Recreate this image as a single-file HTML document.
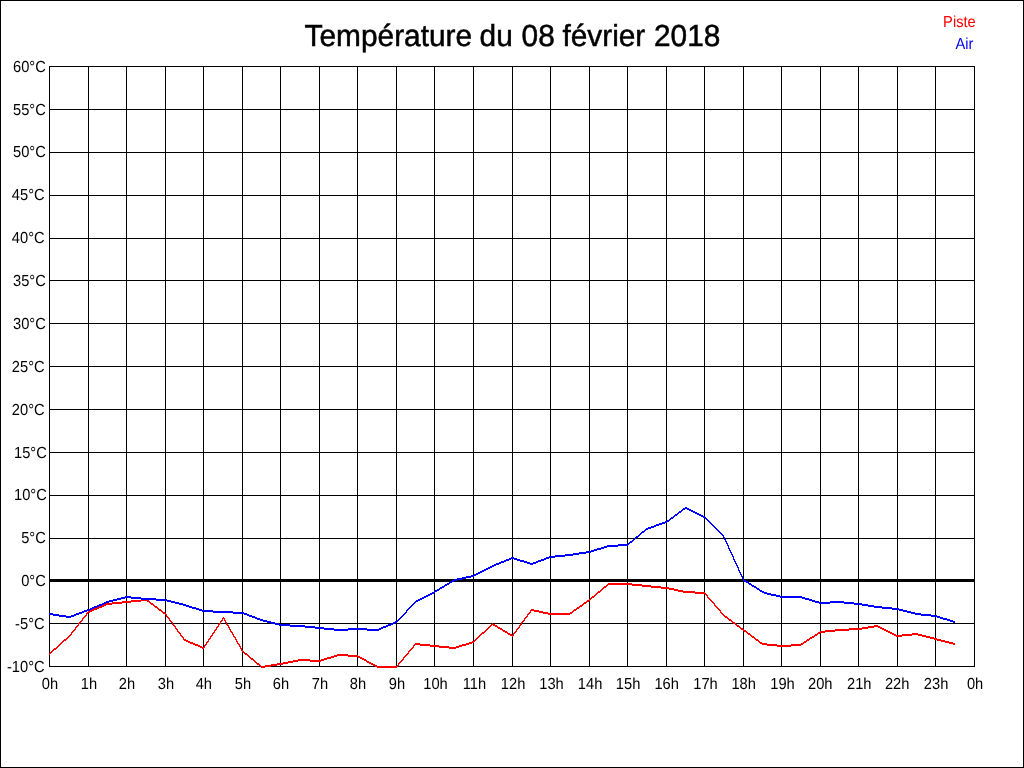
<!DOCTYPE html>
<html lang="fr">
<head>
<meta charset="utf-8">
<title>Température du 08 février 2018</title>
<style>
html,body{margin:0;padding:0;background:#fff;width:1024px;height:768px;overflow:hidden}
svg{display:block;position:absolute;left:0;top:0}
text{font-family:"Liberation Sans",sans-serif;fill:#000;text-rendering:geometricPrecision}
.t{font-size:29.85px;stroke:#000;stroke-width:.5px}
.a{font-size:14.67px}
.g rect{fill:#000}
</style>
</head>
<body>
<svg width="1024" height="768" viewBox="0 0 1024 768">
<rect x="0" y="0" width="1024" height="768" fill="#fff"/>
<g class="g" shape-rendering="crispEdges">
<rect x="0" y="0" width="1024" height="1"/>
<rect x="0" y="767" width="1024" height="1"/>
<rect x="0" y="0" width="1" height="768"/>
<rect x="1023" y="0" width="1" height="768"/>
<rect x="49" y="66" width="1" height="601"/>
<rect x="88" y="66" width="1" height="601"/>
<rect x="126" y="66" width="1" height="601"/>
<rect x="165" y="66" width="1" height="601"/>
<rect x="203" y="66" width="1" height="601"/>
<rect x="242" y="66" width="1" height="601"/>
<rect x="280" y="66" width="1" height="601"/>
<rect x="319" y="66" width="1" height="601"/>
<rect x="357" y="66" width="1" height="601"/>
<rect x="396" y="66" width="1" height="601"/>
<rect x="434" y="66" width="1" height="601"/>
<rect x="473" y="66" width="1" height="601"/>
<rect x="512" y="66" width="1" height="601"/>
<rect x="550" y="66" width="1" height="601"/>
<rect x="589" y="66" width="1" height="601"/>
<rect x="627" y="66" width="1" height="601"/>
<rect x="666" y="66" width="1" height="601"/>
<rect x="704" y="66" width="1" height="601"/>
<rect x="743" y="66" width="1" height="601"/>
<rect x="781" y="66" width="1" height="601"/>
<rect x="820" y="66" width="1" height="601"/>
<rect x="858" y="66" width="1" height="601"/>
<rect x="897" y="66" width="1" height="601"/>
<rect x="935" y="66" width="1" height="601"/>
<rect x="974" y="66" width="1" height="601"/>
<rect x="49" y="66" width="926" height="1"/>
<rect x="49" y="109" width="926" height="1"/>
<rect x="49" y="152" width="926" height="1"/>
<rect x="49" y="195" width="926" height="1"/>
<rect x="49" y="238" width="926" height="1"/>
<rect x="49" y="280" width="926" height="1"/>
<rect x="49" y="323" width="926" height="1"/>
<rect x="49" y="366" width="926" height="1"/>
<rect x="49" y="409" width="926" height="1"/>
<rect x="49" y="452" width="926" height="1"/>
<rect x="49" y="495" width="926" height="1"/>
<rect x="49" y="538" width="926" height="1"/>
<rect x="49" y="580" width="926" height="1"/>
<rect x="49" y="623" width="926" height="1"/>
<rect x="49" y="666" width="926" height="1"/>
<rect x="49" y="579" width="926" height="3"/>
</g>
<path shape-rendering="crispEdges" fill="#f00" d="M608 583h24v1h-24zM607 584h35v1h-35zM606 585h2v1h-2zM632 585h19v1h-19zM604 586h3v1h-3zM642 586h19v1h-19zM603 587h3v1h-3zM651 587h18v1h-18zM602 588h2v1h-2zM661 588h13v1h-13zM601 589h2v1h-2zM669 589h9v1h-9zM600 590h2v1h-2zM674 590h9v1h-9zM598 591h3v1h-3zM678 591h17v1h-17zM597 592h3v1h-3zM683 592h22v1h-22zM596 593h2v1h-2zM695 593h11v1h-11zM595 594h2v1h-2zM705 594h2v1h-2zM594 595h2v1h-2zM706 595h2v1h-2zM592 596h3v1h-3zM707 596h1v1h-1zM591 597h3v1h-3zM707 597h2v1h-2zM590 598h2v1h-2zM708 598h2v1h-2zM141 599h6v1h-6zM589 599h2v1h-2zM709 599h2v1h-2zM131 600h18v1h-18zM587 600h3v1h-3zM710 600h2v1h-2zM122 601h19v1h-19zM147 601h3v1h-3zM586 601h3v1h-3zM711 601h2v1h-2zM112 602h19v1h-19zM149 602h2v1h-2zM584 602h3v1h-3zM712 602h2v1h-2zM106 603h16v1h-16zM150 603h3v1h-3zM583 603h3v1h-3zM713 603h2v1h-2zM104 604h8v1h-8zM151 604h3v1h-3zM582 604h2v1h-2zM714 604h1v1h-1zM102 605h4v1h-4zM153 605h2v1h-2zM580 605h3v1h-3zM714 605h2v1h-2zM99 606h5v1h-5zM154 606h3v1h-3zM579 606h3v1h-3zM715 606h2v1h-2zM97 607h5v1h-5zM155 607h3v1h-3zM577 607h3v1h-3zM716 607h2v1h-2zM94 608h5v1h-5zM157 608h2v1h-2zM576 608h3v1h-3zM717 608h2v1h-2zM92 609h5v1h-5zM158 609h3v1h-3zM531 609h3v1h-3zM574 609h3v1h-3zM718 609h2v1h-2zM90 610h4v1h-4zM159 610h3v1h-3zM530 610h9v1h-9zM573 610h3v1h-3zM719 610h2v1h-2zM88 611h4v1h-4zM161 611h2v1h-2zM530 611h1v1h-1zM534 611h9v1h-9zM572 611h2v1h-2zM720 611h1v1h-1zM87 612h3v1h-3zM162 612h3v1h-3zM529 612h2v1h-2zM539 612h9v1h-9zM570 612h3v1h-3zM720 612h2v1h-2zM86 613h2v1h-2zM163 613h3v1h-3zM528 613h2v1h-2zM543 613h29v1h-29zM721 613h2v1h-2zM86 614h1v1h-1zM165 614h2v1h-2zM527 614h2v1h-2zM548 614h22v1h-22zM722 614h2v1h-2zM85 615h2v1h-2zM166 615h1v1h-1zM527 615h1v1h-1zM723 615h2v1h-2zM84 616h2v1h-2zM166 616h2v1h-2zM526 616h2v1h-2zM724 616h3v1h-3zM83 617h2v1h-2zM167 617h2v1h-2zM223 617h1v1h-1zM525 617h2v1h-2zM725 617h3v1h-3zM82 618h2v1h-2zM168 618h2v1h-2zM222 618h3v1h-3zM524 618h2v1h-2zM727 618h2v1h-2zM82 619h1v1h-1zM169 619h1v1h-1zM222 619h1v1h-1zM224 619h1v1h-1zM524 619h1v1h-1zM728 619h3v1h-3zM81 620h2v1h-2zM169 620h2v1h-2zM221 620h2v1h-2zM224 620h2v1h-2zM523 620h2v1h-2zM729 620h3v1h-3zM80 621h2v1h-2zM170 621h2v1h-2zM220 621h2v1h-2zM225 621h1v1h-1zM522 621h2v1h-2zM731 621h2v1h-2zM79 622h2v1h-2zM171 622h2v1h-2zM220 622h1v1h-1zM225 622h2v1h-2zM521 622h2v1h-2zM732 622h3v1h-3zM78 623h2v1h-2zM172 623h1v1h-1zM219 623h2v1h-2zM226 623h1v1h-1zM492 623h1v1h-1zM521 623h1v1h-1zM733 623h3v1h-3zM78 624h1v1h-1zM172 624h2v1h-2zM218 624h2v1h-2zM226 624h2v1h-2zM491 624h4v1h-4zM520 624h2v1h-2zM735 624h2v1h-2zM77 625h2v1h-2zM173 625h2v1h-2zM218 625h1v1h-1zM227 625h2v1h-2zM490 625h2v1h-2zM493 625h4v1h-4zM519 625h2v1h-2zM736 625h3v1h-3zM874 625h4v1h-4zM76 626h2v1h-2zM174 626h2v1h-2zM217 626h2v1h-2zM228 626h1v1h-1zM489 626h2v1h-2zM495 626h3v1h-3zM519 626h1v1h-1zM737 626h3v1h-3zM868 626h12v1h-12zM75 627h2v1h-2zM175 627h1v1h-1zM216 627h2v1h-2zM228 627h2v1h-2zM488 627h2v1h-2zM497 627h3v1h-3zM518 627h2v1h-2zM739 627h2v1h-2zM862 627h12v1h-12zM878 627h4v1h-4zM75 628h1v1h-1zM175 628h2v1h-2zM216 628h1v1h-1zM229 628h1v1h-1zM487 628h2v1h-2zM498 628h4v1h-4zM517 628h2v1h-2zM740 628h3v1h-3zM849 628h19v1h-19zM880 628h4v1h-4zM74 629h2v1h-2zM176 629h2v1h-2zM215 629h2v1h-2zM229 629h2v1h-2zM486 629h2v1h-2zM500 629h3v1h-3zM516 629h2v1h-2zM741 629h3v1h-3zM835 629h27v1h-27zM882 629h4v1h-4zM73 630h2v1h-2zM177 630h1v1h-1zM214 630h2v1h-2zM230 630h1v1h-1zM485 630h2v1h-2zM502 630h3v1h-3zM516 630h1v1h-1zM743 630h3v1h-3zM825 630h24v1h-24zM884 630h4v1h-4zM72 631h2v1h-2zM177 631h2v1h-2zM214 631h1v1h-1zM230 631h2v1h-2zM484 631h2v1h-2zM503 631h4v1h-4zM515 631h2v1h-2zM744 631h3v1h-3zM820 631h15v1h-15zM886 631h4v1h-4zM71 632h2v1h-2zM178 632h2v1h-2zM213 632h2v1h-2zM231 632h2v1h-2zM482 632h3v1h-3zM505 632h3v1h-3zM514 632h2v1h-2zM746 632h2v1h-2zM818 632h7v1h-7zM888 632h4v1h-4zM71 633h1v1h-1zM179 633h2v1h-2zM212 633h2v1h-2zM232 633h1v1h-1zM481 633h3v1h-3zM507 633h3v1h-3zM513 633h2v1h-2zM747 633h3v1h-3zM817 633h3v1h-3zM890 633h4v1h-4zM912 633h6v1h-6zM70 634h2v1h-2zM180 634h1v1h-1zM212 634h1v1h-1zM232 634h2v1h-2zM480 634h2v1h-2zM508 634h4v1h-4zM513 634h1v1h-1zM748 634h3v1h-3zM815 634h3v1h-3zM892 634h4v1h-4zM902 634h20v1h-20zM69 635h2v1h-2zM180 635h2v1h-2zM211 635h2v1h-2zM233 635h1v1h-1zM479 635h2v1h-2zM510 635h4v1h-4zM750 635h2v1h-2zM814 635h3v1h-3zM894 635h18v1h-18zM918 635h8v1h-8zM68 636h2v1h-2zM181 636h2v1h-2zM210 636h2v1h-2zM233 636h2v1h-2zM478 636h2v1h-2zM512 636h1v1h-1zM751 636h3v1h-3zM812 636h3v1h-3zM896 636h6v1h-6zM922 636h8v1h-8zM67 637h2v1h-2zM182 637h2v1h-2zM210 637h1v1h-1zM234 637h2v1h-2zM477 637h2v1h-2zM752 637h3v1h-3zM810 637h4v1h-4zM926 637h8v1h-8zM66 638h2v1h-2zM183 638h1v1h-1zM209 638h2v1h-2zM235 638h1v1h-1zM476 638h2v1h-2zM754 638h2v1h-2zM809 638h3v1h-3zM930 638h7v1h-7zM64 639h3v1h-3zM183 639h3v1h-3zM208 639h2v1h-2zM235 639h2v1h-2zM475 639h2v1h-2zM755 639h3v1h-3zM807 639h3v1h-3zM934 639h7v1h-7zM63 640h3v1h-3zM184 640h4v1h-4zM208 640h1v1h-1zM236 640h1v1h-1zM474 640h2v1h-2zM756 640h3v1h-3zM806 640h3v1h-3zM937 640h8v1h-8zM62 641h2v1h-2zM186 641h4v1h-4zM207 641h2v1h-2zM236 641h2v1h-2zM472 641h3v1h-3zM758 641h2v1h-2zM804 641h3v1h-3zM941 641h8v1h-8zM61 642h2v1h-2zM188 642h5v1h-5zM206 642h2v1h-2zM237 642h1v1h-1zM469 642h5v1h-5zM759 642h3v1h-3zM803 642h3v1h-3zM945 642h8v1h-8zM60 643h2v1h-2zM190 643h5v1h-5zM206 643h1v1h-1zM237 643h2v1h-2zM415 643h5v1h-5zM466 643h6v1h-6zM760 643h7v1h-7zM801 643h3v1h-3zM949 643h6v1h-6zM59 644h2v1h-2zM193 644h5v1h-5zM205 644h2v1h-2zM238 644h2v1h-2zM414 644h16v1h-16zM462 644h7v1h-7zM762 644h15v1h-15zM791 644h12v1h-12zM953 644h2v1h-2zM58 645h2v1h-2zM195 645h5v1h-5zM204 645h2v1h-2zM239 645h1v1h-1zM413 645h2v1h-2zM420 645h19v1h-19zM459 645h7v1h-7zM767 645h34v1h-34zM57 646h2v1h-2zM198 646h4v1h-4zM204 646h1v1h-1zM239 646h2v1h-2zM413 646h1v1h-1zM430 646h19v1h-19zM456 646h6v1h-6zM777 646h14v1h-14zM56 647h2v1h-2zM200 647h5v1h-5zM240 647h1v1h-1zM412 647h2v1h-2zM439 647h20v1h-20zM54 648h3v1h-3zM202 648h2v1h-2zM240 648h2v1h-2zM411 648h2v1h-2zM449 648h7v1h-7zM53 649h3v1h-3zM241 649h1v1h-1zM410 649h2v1h-2zM52 650h2v1h-2zM241 650h2v1h-2zM409 650h2v1h-2zM51 651h2v1h-2zM242 651h2v1h-2zM408 651h2v1h-2zM50 652h2v1h-2zM243 652h2v1h-2zM408 652h1v1h-1zM49 653h2v1h-2zM244 653h3v1h-3zM407 653h2v1h-2zM49 654h1v1h-1zM245 654h3v1h-3zM337 654h11v1h-11zM406 654h2v1h-2zM247 655h2v1h-2zM334 655h24v1h-24zM405 655h2v1h-2zM248 656h2v1h-2zM331 656h6v1h-6zM348 656h12v1h-12zM404 656h2v1h-2zM249 657h2v1h-2zM327 657h7v1h-7zM358 657h4v1h-4zM403 657h2v1h-2zM250 658h3v1h-3zM324 658h7v1h-7zM360 658h4v1h-4zM403 658h1v1h-1zM251 659h3v1h-3zM298 659h12v1h-12zM321 659h6v1h-6zM362 659h4v1h-4zM402 659h2v1h-2zM253 660h2v1h-2zM293 660h31v1h-31zM364 660h3v1h-3zM401 660h2v1h-2zM254 661h2v1h-2zM288 661h10v1h-10zM310 661h11v1h-11zM366 661h3v1h-3zM400 661h2v1h-2zM255 662h2v1h-2zM283 662h10v1h-10zM367 662h4v1h-4zM399 662h2v1h-2zM256 663h3v1h-3zM277 663h11v1h-11zM369 663h4v1h-4zM398 663h2v1h-2zM257 664h3v1h-3zM271 664h12v1h-12zM371 664h4v1h-4zM398 664h1v1h-1zM259 665h2v1h-2zM265 665h12v1h-12zM373 665h4v1h-4zM397 665h2v1h-2zM260 666h11v1h-11zM375 666h23v1h-23zM261 667h4v1h-4zM377 667h20v1h-20z"/>
<path shape-rendering="crispEdges" fill="#00f" d="M685 507h2v1h-2zM683 508h6v1h-6zM682 509h3v1h-3zM687 509h4v1h-4zM681 510h2v1h-2zM689 510h4v1h-4zM679 511h3v1h-3zM691 511h4v1h-4zM678 512h3v1h-3zM693 512h4v1h-4zM677 513h2v1h-2zM695 513h4v1h-4zM675 514h3v1h-3zM697 514h4v1h-4zM674 515h3v1h-3zM699 515h4v1h-4zM673 516h2v1h-2zM701 516h4v1h-4zM671 517h3v1h-3zM703 517h3v1h-3zM670 518h3v1h-3zM705 518h2v1h-2zM669 519h2v1h-2zM706 519h2v1h-2zM667 520h3v1h-3zM707 520h2v1h-2zM665 521h4v1h-4zM708 521h2v1h-2zM662 522h5v1h-5zM709 522h2v1h-2zM659 523h6v1h-6zM710 523h2v1h-2zM656 524h6v1h-6zM711 524h2v1h-2zM654 525h5v1h-5zM712 525h2v1h-2zM651 526h5v1h-5zM713 526h2v1h-2zM648 527h6v1h-6zM714 527h2v1h-2zM646 528h5v1h-5zM715 528h2v1h-2zM645 529h3v1h-3zM716 529h2v1h-2zM644 530h2v1h-2zM717 530h2v1h-2zM642 531h3v1h-3zM718 531h2v1h-2zM641 532h3v1h-3zM719 532h2v1h-2zM640 533h2v1h-2zM720 533h2v1h-2zM639 534h2v1h-2zM721 534h2v1h-2zM638 535h2v1h-2zM722 535h2v1h-2zM636 536h3v1h-3zM723 536h1v1h-1zM635 537h3v1h-3zM723 537h2v1h-2zM634 538h2v1h-2zM724 538h1v1h-1zM633 539h2v1h-2zM724 539h2v1h-2zM632 540h2v1h-2zM725 540h1v1h-1zM630 541h3v1h-3zM725 541h2v1h-2zM629 542h3v1h-3zM726 542h1v1h-1zM628 543h2v1h-2zM726 543h2v1h-2zM618 544h11v1h-11zM727 544h1v1h-1zM607 545h21v1h-21zM727 545h2v1h-2zM604 546h14v1h-14zM728 546h1v1h-1zM601 547h6v1h-6zM728 547h1v1h-1zM597 548h7v1h-7zM728 548h2v1h-2zM594 549h7v1h-7zM729 549h1v1h-1zM591 550h6v1h-6zM729 550h2v1h-2zM586 551h8v1h-8zM730 551h1v1h-1zM579 552h12v1h-12zM730 552h2v1h-2zM573 553h13v1h-13zM731 553h1v1h-1zM565 554h14v1h-14zM731 554h2v1h-2zM555 555h18v1h-18zM732 555h1v1h-1zM549 556h16v1h-16zM732 556h2v1h-2zM511 557h3v1h-3zM546 557h9v1h-9zM733 557h1v1h-1zM509 558h8v1h-8zM544 558h5v1h-5zM733 558h1v1h-1zM506 559h5v1h-5zM514 559h6v1h-6zM541 559h5v1h-5zM733 559h2v1h-2zM504 560h5v1h-5zM517 560h7v1h-7zM538 560h6v1h-6zM734 560h1v1h-1zM501 561h5v1h-5zM520 561h7v1h-7zM536 561h5v1h-5zM734 561h2v1h-2zM499 562h5v1h-5zM524 562h6v1h-6zM533 562h5v1h-5zM735 562h1v1h-1zM496 563h5v1h-5zM527 563h9v1h-9zM735 563h2v1h-2zM494 564h5v1h-5zM530 564h3v1h-3zM736 564h1v1h-1zM492 565h4v1h-4zM736 565h2v1h-2zM490 566h4v1h-4zM737 566h1v1h-1zM488 567h4v1h-4zM737 567h2v1h-2zM486 568h4v1h-4zM738 568h1v1h-1zM484 569h4v1h-4zM738 569h1v1h-1zM482 570h4v1h-4zM738 570h2v1h-2zM480 571h4v1h-4zM739 571h1v1h-1zM478 572h4v1h-4zM739 572h2v1h-2zM476 573h4v1h-4zM740 573h1v1h-1zM474 574h4v1h-4zM740 574h2v1h-2zM471 575h5v1h-5zM741 575h1v1h-1zM466 576h8v1h-8zM741 576h2v1h-2zM462 577h9v1h-9zM742 577h1v1h-1zM457 578h9v1h-9zM742 578h2v1h-2zM454 579h8v1h-8zM743 579h1v1h-1zM452 580h5v1h-5zM743 580h3v1h-3zM450 581h4v1h-4zM744 581h4v1h-4zM449 582h3v1h-3zM746 582h3v1h-3zM447 583h3v1h-3zM748 583h3v1h-3zM445 584h4v1h-4zM749 584h3v1h-3zM444 585h3v1h-3zM751 585h3v1h-3zM442 586h3v1h-3zM752 586h4v1h-4zM440 587h4v1h-4zM754 587h3v1h-3zM439 588h3v1h-3zM756 588h3v1h-3zM437 589h3v1h-3zM757 589h3v1h-3zM435 590h4v1h-4zM759 590h3v1h-3zM434 591h3v1h-3zM760 591h4v1h-4zM432 592h3v1h-3zM762 592h5v1h-5zM430 593h4v1h-4zM764 593h7v1h-7zM428 594h4v1h-4zM767 594h9v1h-9zM426 595h4v1h-4zM771 595h9v1h-9zM125 596h6v1h-6zM424 596h4v1h-4zM776 596h26v1h-26zM121 597h20v1h-20zM422 597h4v1h-4zM780 597h25v1h-25zM117 598h8v1h-8zM131 598h25v1h-25zM420 598h4v1h-4zM802 598h7v1h-7zM113 599h8v1h-8zM141 599h26v1h-26zM418 599h4v1h-4zM805 599h7v1h-7zM109 600h8v1h-8zM156 600h15v1h-15zM416 600h4v1h-4zM809 600h6v1h-6zM106 601h7v1h-7zM167 601h8v1h-8zM415 601h3v1h-3zM812 601h7v1h-7zM830 601h14v1h-14zM104 602h5v1h-5zM171 602h8v1h-8zM414 602h2v1h-2zM815 602h39v1h-39zM102 603h4v1h-4zM175 603h8v1h-8zM413 603h2v1h-2zM819 603h11v1h-11zM844 603h18v1h-18zM99 604h5v1h-5zM179 604h7v1h-7zM412 604h2v1h-2zM854 604h14v1h-14zM97 605h5v1h-5zM183 605h6v1h-6zM411 605h2v1h-2zM862 605h12v1h-12zM94 606h5v1h-5zM186 606h6v1h-6zM410 606h2v1h-2zM868 606h14v1h-14zM92 607h5v1h-5zM189 607h7v1h-7zM409 607h2v1h-2zM874 607h18v1h-18zM90 608h4v1h-4zM192 608h7v1h-7zM408 608h2v1h-2zM882 608h17v1h-17zM87 609h5v1h-5zM196 609h6v1h-6zM407 609h2v1h-2zM892 609h11v1h-11zM84 610h6v1h-6zM199 610h14v1h-14zM406 610h2v1h-2zM899 610h8v1h-8zM82 611h5v1h-5zM202 611h31v1h-31zM406 611h1v1h-1zM903 611h8v1h-8zM79 612h5v1h-5zM213 612h31v1h-31zM405 612h2v1h-2zM907 612h8v1h-8zM49 613h4v1h-4zM76 613h6v1h-6zM233 613h14v1h-14zM404 613h2v1h-2zM911 613h10v1h-10zM49 614h10v1h-10zM74 614h5v1h-5zM244 614h5v1h-5zM403 614h2v1h-2zM915 614h16v1h-16zM53 615h13v1h-13zM71 615h5v1h-5zM247 615h5v1h-5zM402 615h2v1h-2zM921 615h16v1h-16zM59 616h15v1h-15zM249 616h6v1h-6zM401 616h2v1h-2zM931 616h9v1h-9zM66 617h5v1h-5zM252 617h5v1h-5zM400 617h2v1h-2zM937 617h6v1h-6zM255 618h5v1h-5zM399 618h2v1h-2zM940 618h7v1h-7zM257 619h6v1h-6zM398 619h2v1h-2zM943 619h7v1h-7zM260 620h7v1h-7zM397 620h2v1h-2zM947 620h6v1h-6zM263 621h8v1h-8zM395 621h3v1h-3zM950 621h5v1h-5zM267 622h8v1h-8zM393 622h4v1h-4zM953 622h2v1h-2zM271 623h8v1h-8zM391 623h4v1h-4zM275 624h15v1h-15zM388 624h5v1h-5zM279 625h26v1h-26zM386 625h5v1h-5zM290 626h25v1h-25zM383 626h5v1h-5zM305 627h19v1h-19zM381 627h5v1h-5zM315 628h19v1h-19zM348 628h19v1h-19zM379 628h4v1h-4zM324 629h57v1h-57zM334 630h14v1h-14zM367 630h12v1h-12z"/>
<text class="t" transform="translate(0 46) scale(1 1.02)"><tspan x="304.6">Température</tspan> <tspan x="479.6">du</tspan> <tspan x="521.6">08</tspan> <tspan x="562.4">février</tspan> <tspan x="654">2018</tspan></text>
<text class="a" transform="translate(975.7 27) scale(1 1.09)" text-anchor="end" style="fill:#f00">Piste</text>
<text class="a" transform="translate(973.4 49) scale(1 1.09)" text-anchor="end" style="fill:#00f">Air</text>
<text class="a" transform="translate(45.8 72) scale(1 1.09)" text-anchor="end">60°C</text>
<text class="a" transform="translate(45.8 115) scale(1 1.09)" text-anchor="end">55°C</text>
<text class="a" transform="translate(45.8 157) scale(1 1.09)" text-anchor="end">50°C</text>
<text class="a" transform="translate(44.6 200) scale(1 1.09)" text-anchor="end">45°C</text>
<text class="a" transform="translate(44.6 243) scale(1 1.09)" text-anchor="end">40°C</text>
<text class="a" transform="translate(45.8 286) scale(1 1.09)" text-anchor="end">35°C</text>
<text class="a" transform="translate(45.8 328.6) scale(1 1.09)" text-anchor="end">30°C</text>
<text class="a" transform="translate(44.6 371.6) scale(1 1.09)" text-anchor="end">25°C</text>
<text class="a" transform="translate(44.6 414.8) scale(1 1.09)" text-anchor="end">20°C</text>
<text class="a" transform="translate(46.8 457.6) scale(1 1.09)" text-anchor="end">15°C</text>
<text class="a" transform="translate(46.8 500) scale(1 1.09)" text-anchor="end">10°C</text>
<text class="a" transform="translate(45.8 542.9) scale(1 1.09)" text-anchor="end">5°C</text>
<text class="a" transform="translate(45.8 586) scale(1 1.09)" text-anchor="end">0°C</text>
<text class="a" transform="translate(44.6 628.6) scale(1 1.09)" text-anchor="end">-5°C</text>
<text class="a" transform="translate(44.6 671.7) scale(1 1.09)" text-anchor="end">-10°C</text>
<text class="a" transform="translate(50 689) scale(1 1.09)" text-anchor="middle">0h</text>
<text class="a" transform="translate(89 689) scale(1 1.09)" text-anchor="middle">1h</text>
<text class="a" transform="translate(127 689) scale(1 1.09)" text-anchor="middle">2h</text>
<text class="a" transform="translate(166 689) scale(1 1.09)" text-anchor="middle">3h</text>
<text class="a" transform="translate(203.8 689) scale(1 1.09)" text-anchor="middle">4h</text>
<text class="a" transform="translate(243 689) scale(1 1.09)" text-anchor="middle">5h</text>
<text class="a" transform="translate(281 689) scale(1 1.09)" text-anchor="middle">6h</text>
<text class="a" transform="translate(320 689) scale(1 1.09)" text-anchor="middle">7h</text>
<text class="a" transform="translate(358 689) scale(1 1.09)" text-anchor="middle">8h</text>
<text class="a" transform="translate(397 689) scale(1 1.09)" text-anchor="middle">9h</text>
<text class="a" transform="translate(435.5 689) scale(1 1.09)" text-anchor="middle">10h</text>
<text class="a" transform="translate(474.5 689) scale(1 1.09)" text-anchor="middle">11h</text>
<text class="a" transform="translate(513.1 689) scale(1 1.09)" text-anchor="middle">12h</text>
<text class="a" transform="translate(551.5 689) scale(1 1.09)" text-anchor="middle">13h</text>
<text class="a" transform="translate(590.1 689) scale(1 1.09)" text-anchor="middle">14h</text>
<text class="a" transform="translate(628.1 689) scale(1 1.09)" text-anchor="middle">15h</text>
<text class="a" transform="translate(666.7 689) scale(1 1.09)" text-anchor="middle">16h</text>
<text class="a" transform="translate(705.5 689) scale(1 1.09)" text-anchor="middle">17h</text>
<text class="a" transform="translate(743.7 689) scale(1 1.09)" text-anchor="middle">18h</text>
<text class="a" transform="translate(782.5 689) scale(1 1.09)" text-anchor="middle">19h</text>
<text class="a" transform="translate(820.3 689) scale(1 1.09)" text-anchor="middle">20h</text>
<text class="a" transform="translate(859.3 689) scale(1 1.09)" text-anchor="middle">21h</text>
<text class="a" transform="translate(897.2 689) scale(1 1.09)" text-anchor="middle">22h</text>
<text class="a" transform="translate(936.1 689) scale(1 1.09)" text-anchor="middle">23h</text>
<text class="a" transform="translate(975.1 689) scale(1 1.09)" text-anchor="middle">0h</text>
</svg>
</body>
</html>
